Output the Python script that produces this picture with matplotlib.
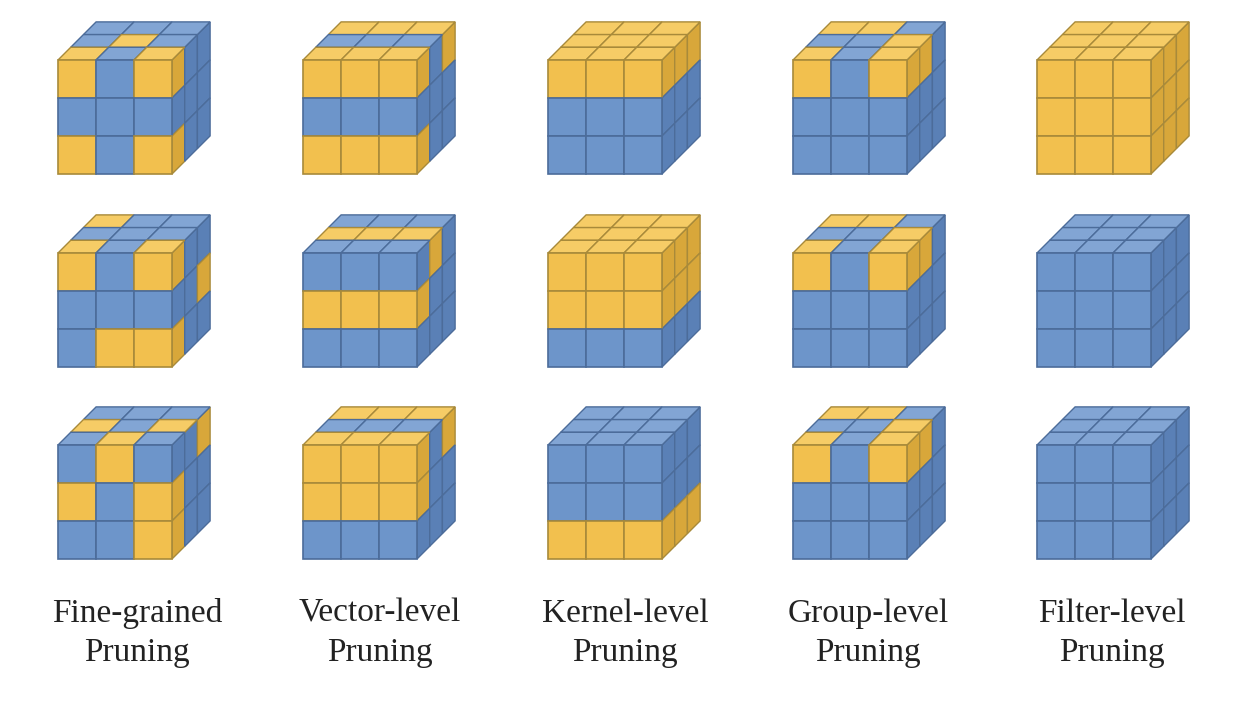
import matplotlib.pyplot as plt
from matplotlib.patches import Polygon

# each cube: front (rows top->bottom), top (rows back->front), right (rows top->bottom, cols front->back)
labels = ['Fine-grained\nPruning', 'Vector-level\nPruning', 'Kernel-level\nPruning',
          'Group-level\nPruning', 'Filter-level\nPruning']

fine = [
    (['YBY', 'BBB', 'YBY'], ['BBB', 'BYB', 'YBY'], ['YBB', 'BBB', 'YBB']),
    (['YBY', 'BBB', 'BYY'], ['YBB', 'BBB', 'YBY'], ['YBB', 'BBY', 'YBB']),
    (['BYB', 'YBY', 'BBY'], ['BBB', 'YBY', 'BYB'], ['BBY', 'YBB', 'YBB']),
]
vector = [
    (['YYY', 'BBB', 'YYY'], ['YYY', 'BBB', 'YYY'], ['YBY', 'BBB', 'YBB']),
    (['BBB', 'YYY', 'BBB'], ['BBB', 'YYY', 'BBB'], ['BYB', 'YBB', 'BBB']),
    (['YYY', 'YYY', 'BBB'], ['YYY', 'BBB', 'YYY'], ['YBY', 'YBB', 'BBB']),
]
kernel = [
    (['YYY', 'BBB', 'BBB'], ['YYY', 'YYY', 'YYY'], ['YYY', 'BBB', 'BBB']),
    (['YYY', 'YYY', 'BBB'], ['YYY', 'YYY', 'YYY'], ['YYY', 'YYY', 'BBB']),
    (['BBB', 'BBB', 'YYY'], ['BBB', 'BBB', 'BBB'], ['BBB', 'BBB', 'YYY']),
]
group = [
    (['YBY', 'BBB', 'BBB'], ['YYB', 'BBY', 'YBY'], ['YYB', 'BBB', 'BBB']),
    (['YBY', 'BBB', 'BBB'], ['YYB', 'BBY', 'YBY'], ['YYB', 'BBB', 'BBB']),
    (['YBY', 'BBB', 'BBB'], ['YYB', 'BBY', 'YBY'], ['YYB', 'BBB', 'BBB']),
]
filt = [
    (['YYY'] * 3, ['YYY'] * 3, ['YYY'] * 3),
    (['BBB'] * 3, ['BBB'] * 3, ['BBB'] * 3),
    (['BBB'] * 3, ['BBB'] * 3, ['BBB'] * 3),
]
columns = [fine, vector, kernel, group, filt]

col_x = [58, 303, 548, 793, 1037]
row_y = [60, 253, 445]
label_x = [137, 380, 625, 868, 1112]

face_col = {'Y': '#F2C04E', 'B': '#6D95CA'}
top_col = {'Y': '#F6CC66', 'B': '#82A5D4'}
side_col = {'Y': '#D8A73A', 'B': '#5A80B6'}
edge_col = {'Y': '#A88A3A', 'B': '#4C6C9A'}

s = 38.0
d = 12.7

fig = plt.figure(figsize=(12.4, 7.1), dpi=100)
ax = fig.add_axes([0, 0, 1, 1])
ax.set_xlim(0, 1240)
ax.set_ylim(710, 0)
ax.axis('off')


def proj(x0, yb, i, j, k):
    return (x0 + i * s + j * d, yb - k * s - j * d)


def draw_cube(x0, ytop, cube):
    front, top, right = cube
    yb = ytop + 3 * s
    # right face
    for r in range(3):
        for q in range(3):
            c = right[r][q]
            k0 = 2 - r
            pts = [proj(x0, yb, 3, q, k0), proj(x0, yb, 3, q + 1, k0),
                   proj(x0, yb, 3, q + 1, k0 + 1), proj(x0, yb, 3, q, k0 + 1)]
            ax.add_patch(Polygon(pts, fc=side_col[c], ec=edge_col[c], lw=1.0))
    # top face
    for t in range(3):
        for ci in range(3):
            c = top[t][ci]
            j0 = 2 - t
            pts = [proj(x0, yb, ci, j0, 3), proj(x0, yb, ci + 1, j0, 3),
                   proj(x0, yb, ci + 1, j0 + 1, 3), proj(x0, yb, ci, j0 + 1, 3)]
            ax.add_patch(Polygon(pts, fc=top_col[c], ec=edge_col[c], lw=1.0))
    # front face
    for r in range(3):
        for ci in range(3):
            c = front[r][ci]
            k0 = 2 - r
            pts = [proj(x0, yb, ci, 0, k0), proj(x0, yb, ci + 1, 0, k0),
                   proj(x0, yb, ci + 1, 0, k0 + 1), proj(x0, yb, ci, 0, k0 + 1)]
            ax.add_patch(Polygon(pts, fc=face_col[c], ec=edge_col[c], lw=1.2))


for cx, cubes in zip(col_x, columns):
    for ry, cube in zip(row_y, cubes):
        draw_cube(cx, ry, cube)

for lx, lab in zip(label_x, labels):
    ax.text(lx, 633, lab, ha='center', va='center', fontsize=24,
            family='Liberation Serif', color='#222222', linespacing=1.35)

fig.savefig('out.png', dpi=100)
